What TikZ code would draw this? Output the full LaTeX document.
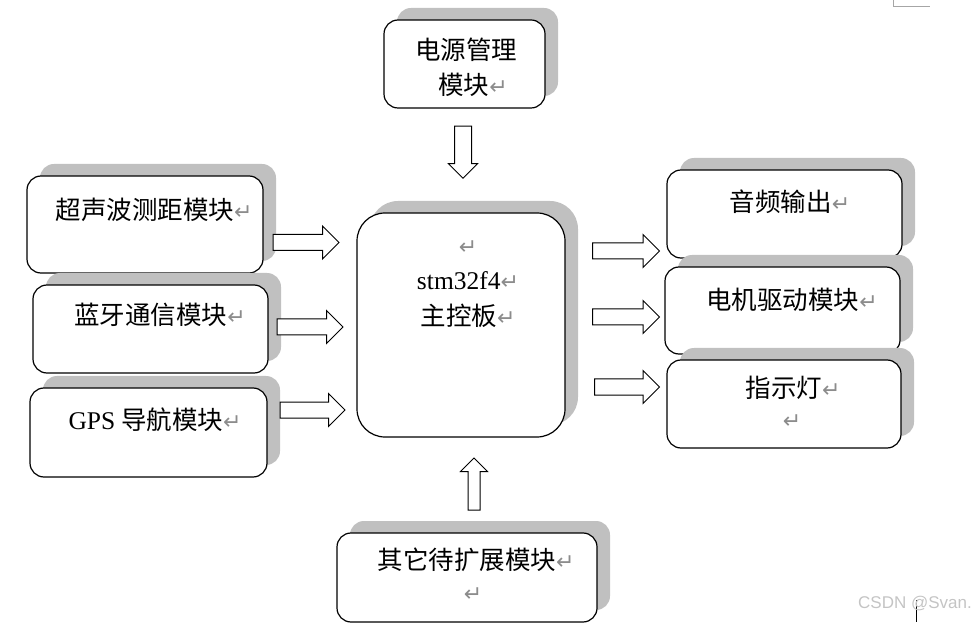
\documentclass[tikz,border=0pt]{standalone}
\usepackage{fontspec}
\setmainfont{Liberation Serif}
\newfontfamily\cjk{Noto Sans CJK SC}
\newfontfamily\symfont{DejaVu Sans}
\newfontfamily\wmfont{Liberation Sans}
\usetikzlibrary{shapes.arrows,shadows}
\definecolor{shadowgray}{HTML}{C0C0C0}
\definecolor{markgray}{HTML}{8C8C8C}
\definecolor{wmgray}{HTML}{C4C4C4}
\newcommand{\pmark}{{\symfont\fontsize{22}{22}\selectfont\color{markgray}↵}}
\newcommand{\lat}[1]{{\rmfamily #1}}
\tikzset{
  module/.style={draw, line width=1.2pt, rounded corners=14pt, fill=white, inner sep=0pt,
    drop shadow={shadow xshift=13pt, shadow yshift=12pt, fill=shadowgray, opacity=1}},
  txt/.style={inner sep=0pt, font=\fontsize{25.5}{35.5}\selectfont\cjk, align=center},
  hollow/.style={single arrow, draw, line width=1pt, fill=white, inner sep=7.5pt,
    text height=0pt, text depth=0pt, text width=0pt,
    single arrow head extend=8.5pt, minimum height=66pt}
}
\begin{document}
\begin{tikzpicture}[x=1pt, y=-1pt]
\useasboundingbox (0,0) rectangle (975,628);

% power supply, top
\node[module, minimum width=161pt, minimum height=88pt] (power) at (464.5,64) {};
\node[txt] (powertxt) at (466,50) {电源管理};
\node[txt] (powertxtb) at (473,85) {模块\pmark};
\node[hollow, shape border rotate=270, minimum height=52pt, inner sep=8pt,
  single arrow head extend=6pt] (apower) at (463,148) {};

% main board
\node[module, rounded corners=28pt, minimum width=208pt, minimum height=224pt] (board) at (461,325) {};
\node[txt] (boardtxt) at (468,284) {\pmark\\ \lat{stm32f4}\pmark\\ 主控板\pmark};

% inputs, left
\node[module, minimum width=236pt, minimum height=97pt] (ultra) at (145,224.5) {};
\node[txt] (ultratxt) at (154,210) {超声波测距模块\pmark};
\node[module, minimum width=235pt, minimum height=88pt] (bt) at (150.5,329) {};
\node[txt] (bttxt) at (160,315) {蓝牙通信模块\pmark};
\node[module, minimum width=237pt, minimum height=89pt] (gps) at (148.5,432.5) {};
\node[txt] (gpstxt) at (155,420) {\lat{GPS} 导航模块\pmark};

\node[hollow] (aultra) at (302,242.5) {};
\node[hollow] (abt) at (306,327) {};
\node[hollow, minimum height=65pt] (agps) at (308.5,410) {};

% outputs, right
\node[module, minimum width=235pt, minimum height=88pt] (audio) at (784.5,214) {};
\node[txt] (audiotxt) at (790,202) {音频输出\pmark};
\node[module, minimum width=235pt, minimum height=87pt] (motor) at (782.5,310.5) {};
\node[txt] (motortxt) at (792,300) {电机驱动模块\pmark};
\node[module, minimum width=234pt, minimum height=88pt] (led) at (784,404) {};
\node[txt] (ledtxt) at (793,388) {指示灯\pmark};
\node[txt] (ledtxtb) at (792,422) {\pmark};

\node[hollow, minimum height=67pt] (aaudio) at (622,251) {};
\node[hollow, minimum height=67pt] (amotor) at (622,317) {};
\node[hollow, minimum height=65pt] (aled) at (623,387) {};

% extension, bottom
\node[module, minimum width=260pt, minimum height=89pt] (ext) at (467,577.5) {};
\node[txt] (exttxt) at (476,560) {其它待扩展模块\pmark};
\node[txt] (exttxtb) at (473,595) {\pmark};
\node[hollow, shape border rotate=90, minimum height=52pt, inner sep=5.5pt,
  single arrow head extend=7.5pt] (aext) at (474,487) {};

% page marks
\draw[gray!70, line width=1pt] (893,0) -- (893,7) -- (930,7);
\draw[line width=0.8pt] (916,600) -- (916,622);
\node[anchor=east, inner sep=0pt, font=\wmfont\fontsize{17}{17}\selectfont, text=wmgray] (wm) at (972,604) {CSDN @Svan.};

\end{tikzpicture}
\end{document}
